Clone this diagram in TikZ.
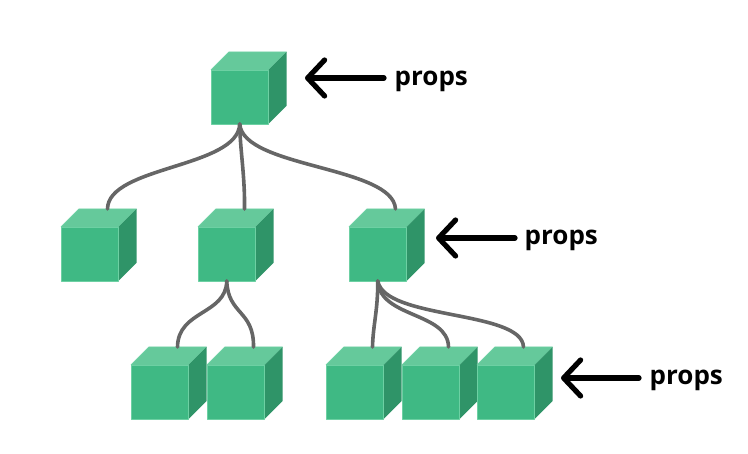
\documentclass[tikz,border=0pt]{standalone}
\usepackage{fontspec}
\setmainfont{Open Sans}
\usetikzlibrary{arrows.meta}
\definecolor{cubefront}{HTML}{3FB984}
\definecolor{cubetop}{HTML}{65C99B}
\definecolor{cubeside}{HTML}{2F9468}
\definecolor{cubeedge}{HTML}{6DD0A3}
\definecolor{linkgray}{HTML}{666666}
\tikzset{
  cubeface/.style={draw=cubeedge,line width=0.8pt,line join=round},
  cubenode/.style={cubeface,fill=cubefront,rectangle,minimum width=57.5pt,minimum height=54pt,inner sep=0pt,outer sep=0pt,anchor=north west},
  link/.style={draw=linkgray,line width=3.6pt,line cap=round},
  proplabel/.style={font=\bfseries\fontsize{26}{26}\selectfont,text=black,inner sep=0pt,anchor=base west},
  proparrow/.style={draw=black,line width=5.2pt,line cap=round,line join=round,-{Straight Barb[length=17pt,width=36pt,round]}}
}
\newcommand{\cubeat}[3]{%
  \fill[cubetop] (#2,#3) -- ++(18,-18) -- ++(57.5,0) -- ++(-18,18) -- cycle;
  \draw[cubeedge,line width=0.8pt] (#2,#3) -- ++(18,-18) -- ++(57.5,0);
  \fill[cubeside] (#2+57.5,#3) -- ++(18,-18) -- ++(0,54) -- ++(-18,18) -- cycle;
  \node[cubenode] (#1) at (#2,#3) {};
  \coordinate (#1-top) at (#2+46.5,#3-18);
}
\begin{document}
\begin{tikzpicture}[x=1pt,y=-1pt]
\useasboundingbox (0,0) rectangle (748,454);
\cubeat{root}{211}{70}
\cubeat{a}{61}{227}
\cubeat{b}{198}{227}
\cubeat{c}{349}{227}
\cubeat{ba}{131}{365}
\cubeat{bb}{207}{365}
\cubeat{ca}{326}{365}
\cubeat{cb}{402}{365}
\cubeat{cc}{477}{365}
% connectors
\draw[link] (root.south) .. controls (238,168) and (108,166) .. (a-top);
\draw[link] (root.south) .. controls (240,150) and (245,175) .. (b-top);
\draw[link] (root.south) .. controls (243,168) and (393,166) .. (c-top);
\draw[link] (b.south) .. controls (226,315) and (178,310) .. (ba-top);
\draw[link] (b.south) .. controls (228,315) and (254,310) .. (bb-top);
\draw[link] (c.south) .. controls (378,310) and (373,325) .. (ca-top);
\draw[link] (c.south) .. controls (380,318) and (448,312) .. (cb-top);
\draw[link] (c.south) .. controls (385,320) and (522,310) .. (cc-top);
% labels and arrows
\node[proplabel] (p1) at (394.5,86) {props};
\node[proplabel] (p2) at (524.5,245) {props};
\node[proplabel] (p3) at (649.5,385) {props};
\coordinate (t1) at (305,78);
\coordinate (t2) at (436,238);
\coordinate (t3) at (561,378);
\draw[proparrow] (384,78) -- (t1);
\draw[proparrow] (515,238) -- (t2);
\draw[proparrow] (639,378) -- (t3);
\end{tikzpicture}
\end{document}
